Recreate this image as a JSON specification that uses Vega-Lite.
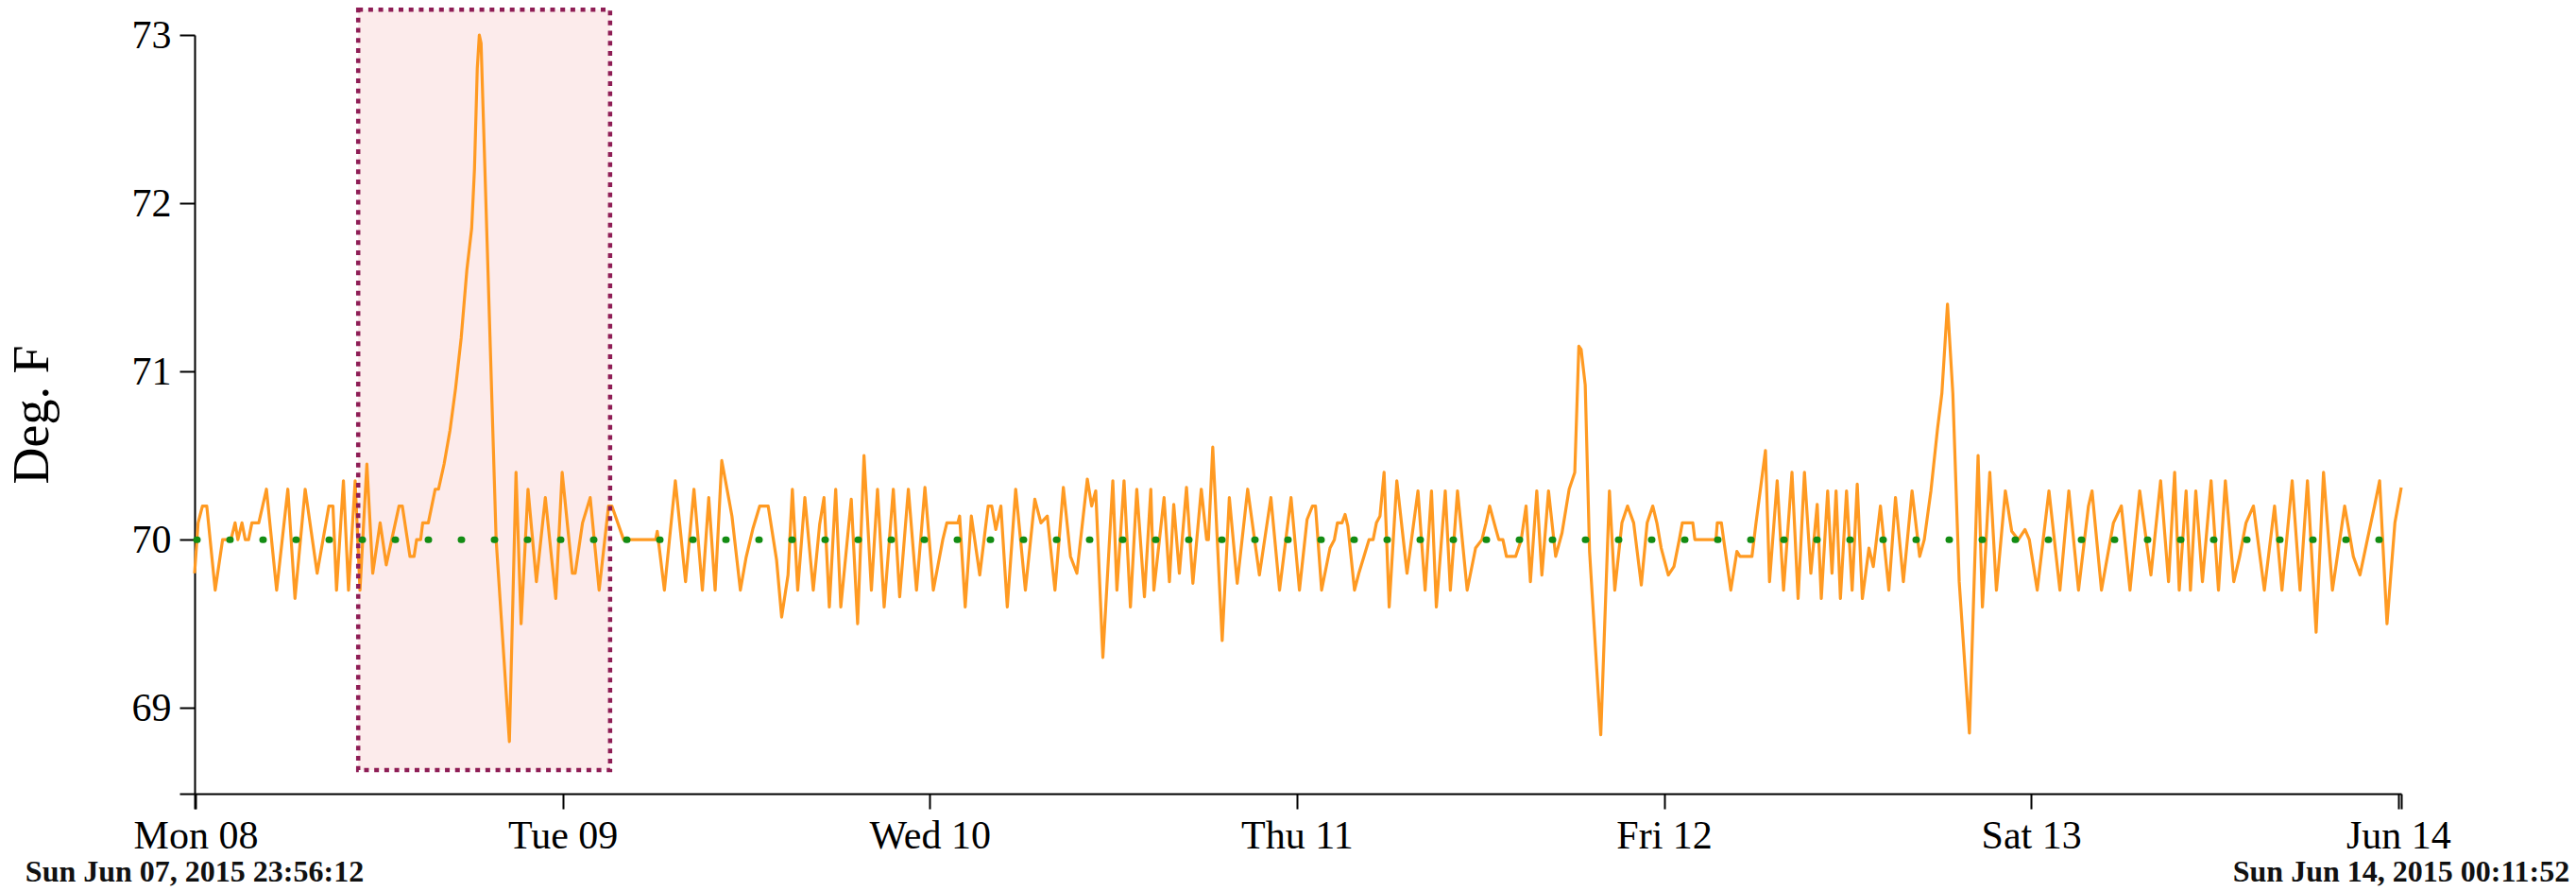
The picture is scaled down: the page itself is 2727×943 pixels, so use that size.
{
  "$schema": "https://vega.github.io/schema/vega-lite/v6.json",
  "width": 2336,
  "height": 803,
  "autosize": {"type": "none"},
  "padding": {"left": 206, "top": 37, "right": 185, "bottom": 103},
  "background": "#ffffff",
  "datasets": {
    "brush": [
      {"from": "2015-06-08T10:38", "to": "2015-06-09T03:06", "lo": 68.63, "hi": 73.15}
    ],
    "span": [
      {"t": "2015-06-07T23:56:12"},
      {"t": "2015-06-14T00:11:52"}
    ],
    "readings": [
      {"t": "2015-06-07T23:56:12", "temp": 69.8},
      {"t": "2015-06-08T00:10", "temp": 70.1},
      {"t": "2015-06-08T00:27", "temp": 70.2},
      {"t": "2015-06-08T00:44", "temp": 70.2},
      {"t": "2015-06-08T01:17", "temp": 69.7},
      {"t": "2015-06-08T01:46", "temp": 70.0},
      {"t": "2015-06-08T02:19", "temp": 70.0},
      {"t": "2015-06-08T02:35", "temp": 70.1},
      {"t": "2015-06-08T02:46", "temp": 70.0},
      {"t": "2015-06-08T03:02", "temp": 70.1},
      {"t": "2015-06-08T03:15", "temp": 70.0},
      {"t": "2015-06-08T03:28", "temp": 70.0},
      {"t": "2015-06-08T03:41", "temp": 70.1},
      {"t": "2015-06-08T04:08", "temp": 70.1},
      {"t": "2015-06-08T04:38", "temp": 70.3},
      {"t": "2015-06-08T05:18", "temp": 69.7},
      {"t": "2015-06-08T06:02", "temp": 70.3},
      {"t": "2015-06-08T06:30", "temp": 69.65},
      {"t": "2015-06-08T07:10", "temp": 70.3},
      {"t": "2015-06-08T07:57", "temp": 69.8},
      {"t": "2015-06-08T08:43", "temp": 70.2},
      {"t": "2015-06-08T08:59", "temp": 70.2},
      {"t": "2015-06-08T09:13", "temp": 69.7},
      {"t": "2015-06-08T09:40", "temp": 70.35},
      {"t": "2015-06-08T10:00", "temp": 69.7},
      {"t": "2015-06-08T10:26", "temp": 70.35},
      {"t": "2015-06-08T10:45", "temp": 69.7},
      {"t": "2015-06-08T11:12", "temp": 70.45},
      {"t": "2015-06-08T11:35", "temp": 69.8},
      {"t": "2015-06-08T12:04", "temp": 70.1},
      {"t": "2015-06-08T12:28", "temp": 69.85},
      {"t": "2015-06-08T13:18", "temp": 70.2},
      {"t": "2015-06-08T13:31", "temp": 70.2},
      {"t": "2015-06-08T14:01", "temp": 69.9},
      {"t": "2015-06-08T14:17", "temp": 69.9},
      {"t": "2015-06-08T14:27", "temp": 70.0},
      {"t": "2015-06-08T14:43", "temp": 70.0},
      {"t": "2015-06-08T14:51", "temp": 70.1},
      {"t": "2015-06-08T15:13", "temp": 70.1},
      {"t": "2015-06-08T15:40", "temp": 70.3},
      {"t": "2015-06-08T15:53", "temp": 70.3},
      {"t": "2015-06-08T16:15", "temp": 70.45},
      {"t": "2015-06-08T16:38", "temp": 70.65},
      {"t": "2015-06-08T17:00", "temp": 70.9},
      {"t": "2015-06-08T17:22", "temp": 71.2},
      {"t": "2015-06-08T17:44", "temp": 71.6},
      {"t": "2015-06-08T18:03", "temp": 71.85},
      {"t": "2015-06-08T18:14", "temp": 72.2},
      {"t": "2015-06-08T18:25", "temp": 72.8},
      {"t": "2015-06-08T18:33", "temp": 73.0},
      {"t": "2015-06-08T18:40", "temp": 72.95},
      {"t": "2015-06-08T19:39", "temp": 70.0},
      {"t": "2015-06-08T20:31", "temp": 68.8},
      {"t": "2015-06-08T20:57", "temp": 70.4},
      {"t": "2015-06-08T21:17", "temp": 69.5},
      {"t": "2015-06-08T21:44", "temp": 70.3},
      {"t": "2015-06-08T22:17", "temp": 69.75},
      {"t": "2015-06-08T22:52", "temp": 70.25},
      {"t": "2015-06-08T23:33", "temp": 69.65},
      {"t": "2015-06-08T23:58", "temp": 70.4},
      {"t": "2015-06-09T00:38", "temp": 69.8},
      {"t": "2015-06-09T00:49", "temp": 69.8},
      {"t": "2015-06-09T01:18", "temp": 70.1},
      {"t": "2015-06-09T01:48", "temp": 70.25},
      {"t": "2015-06-09T02:23", "temp": 69.7},
      {"t": "2015-06-09T03:00", "temp": 70.2},
      {"t": "2015-06-09T03:13", "temp": 70.2},
      {"t": "2015-06-09T03:59", "temp": 70.0},
      {"t": "2015-06-09T06:05", "temp": 70.0},
      {"t": "2015-06-09T06:11", "temp": 70.05},
      {"t": "2015-06-09T06:39", "temp": 69.7},
      {"t": "2015-06-09T07:22", "temp": 70.35},
      {"t": "2015-06-09T08:02", "temp": 69.75},
      {"t": "2015-06-09T08:35", "temp": 70.3},
      {"t": "2015-06-09T09:08", "temp": 69.7},
      {"t": "2015-06-09T09:33", "temp": 70.25},
      {"t": "2015-06-09T09:58", "temp": 69.7},
      {"t": "2015-06-09T10:24", "temp": 70.47},
      {"t": "2015-06-09T10:52", "temp": 70.24},
      {"t": "2015-06-09T11:04", "temp": 70.14},
      {"t": "2015-06-09T11:37", "temp": 69.7},
      {"t": "2015-06-09T11:59", "temp": 69.89},
      {"t": "2015-06-09T12:27", "temp": 70.07},
      {"t": "2015-06-09T12:53", "temp": 70.2},
      {"t": "2015-06-09T13:26", "temp": 70.2},
      {"t": "2015-06-09T13:59", "temp": 69.88},
      {"t": "2015-06-09T14:19", "temp": 69.54},
      {"t": "2015-06-09T14:44", "temp": 69.79},
      {"t": "2015-06-09T15:01", "temp": 70.3},
      {"t": "2015-06-09T15:22", "temp": 69.7},
      {"t": "2015-06-09T15:50", "temp": 70.25},
      {"t": "2015-06-09T16:23", "temp": 69.7},
      {"t": "2015-06-09T16:48", "temp": 70.09},
      {"t": "2015-06-09T17:05", "temp": 70.25},
      {"t": "2015-06-09T17:26", "temp": 69.6},
      {"t": "2015-06-09T17:51", "temp": 70.3},
      {"t": "2015-06-09T18:11", "temp": 69.6},
      {"t": "2015-06-09T18:52", "temp": 70.24},
      {"t": "2015-06-09T19:17", "temp": 69.5},
      {"t": "2015-06-09T19:42", "temp": 70.5},
      {"t": "2015-06-09T20:11", "temp": 69.7},
      {"t": "2015-06-09T20:35", "temp": 70.3},
      {"t": "2015-06-09T21:01", "temp": 69.6},
      {"t": "2015-06-09T21:37", "temp": 70.3},
      {"t": "2015-06-09T22:02", "temp": 69.66},
      {"t": "2015-06-09T22:36", "temp": 70.3},
      {"t": "2015-06-09T23:08", "temp": 69.7},
      {"t": "2015-06-09T23:41", "temp": 70.31},
      {"t": "2015-06-10T00:14", "temp": 69.7},
      {"t": "2015-06-10T00:51", "temp": 70.0},
      {"t": "2015-06-10T01:07", "temp": 70.1},
      {"t": "2015-06-10T01:50", "temp": 70.1},
      {"t": "2015-06-10T01:57", "temp": 70.14},
      {"t": "2015-06-10T02:19", "temp": 69.6},
      {"t": "2015-06-10T02:43", "temp": 70.14},
      {"t": "2015-06-10T03:16", "temp": 69.79},
      {"t": "2015-06-10T03:49", "temp": 70.2},
      {"t": "2015-06-10T04:03", "temp": 70.2},
      {"t": "2015-06-10T04:19", "temp": 70.06},
      {"t": "2015-06-10T04:39", "temp": 70.2},
      {"t": "2015-06-10T05:04", "temp": 69.6},
      {"t": "2015-06-10T05:37", "temp": 70.3},
      {"t": "2015-06-10T06:15", "temp": 69.7},
      {"t": "2015-06-10T06:52", "temp": 70.24},
      {"t": "2015-06-10T07:16", "temp": 70.1},
      {"t": "2015-06-10T07:41", "temp": 70.14},
      {"t": "2015-06-10T08:11", "temp": 69.7},
      {"t": "2015-06-10T08:44", "temp": 70.31},
      {"t": "2015-06-10T09:12", "temp": 69.9},
      {"t": "2015-06-10T09:37", "temp": 69.8},
      {"t": "2015-06-10T10:18", "temp": 70.36},
      {"t": "2015-06-10T10:35", "temp": 70.2},
      {"t": "2015-06-10T10:51", "temp": 70.29},
      {"t": "2015-06-10T11:19", "temp": 69.3},
      {"t": "2015-06-10T11:58", "temp": 70.35},
      {"t": "2015-06-10T12:14", "temp": 69.7},
      {"t": "2015-06-10T12:42", "temp": 70.35},
      {"t": "2015-06-10T13:07", "temp": 69.6},
      {"t": "2015-06-10T13:32", "temp": 70.3},
      {"t": "2015-06-10T14:02", "temp": 69.66},
      {"t": "2015-06-10T14:27", "temp": 70.3},
      {"t": "2015-06-10T14:39", "temp": 69.7},
      {"t": "2015-06-10T15:19", "temp": 70.25},
      {"t": "2015-06-10T15:40", "temp": 69.75},
      {"t": "2015-06-10T15:57", "temp": 70.21},
      {"t": "2015-06-10T16:19", "temp": 69.8},
      {"t": "2015-06-10T16:47", "temp": 70.31},
      {"t": "2015-06-10T17:12", "temp": 69.74},
      {"t": "2015-06-10T17:45", "temp": 70.3},
      {"t": "2015-06-10T18:06", "temp": 70.0},
      {"t": "2015-06-10T18:13", "temp": 70.0},
      {"t": "2015-06-10T18:30", "temp": 70.55},
      {"t": "2015-06-10T19:07", "temp": 69.4},
      {"t": "2015-06-10T19:35", "temp": 70.25},
      {"t": "2015-06-10T20:06", "temp": 69.74},
      {"t": "2015-06-10T20:47", "temp": 70.3},
      {"t": "2015-06-10T21:33", "temp": 69.79},
      {"t": "2015-06-10T22:18", "temp": 70.25},
      {"t": "2015-06-10T22:52", "temp": 69.7},
      {"t": "2015-06-10T23:37", "temp": 70.25},
      {"t": "2015-06-11T00:10", "temp": 69.7},
      {"t": "2015-06-11T00:40", "temp": 70.12},
      {"t": "2015-06-11T01:01", "temp": 70.2},
      {"t": "2015-06-11T01:13", "temp": 70.2},
      {"t": "2015-06-11T01:37", "temp": 69.7},
      {"t": "2015-06-11T02:10", "temp": 69.95},
      {"t": "2015-06-11T02:27", "temp": 70.0},
      {"t": "2015-06-11T02:39", "temp": 70.1},
      {"t": "2015-06-11T02:57", "temp": 70.1},
      {"t": "2015-06-11T03:09", "temp": 70.15},
      {"t": "2015-06-11T03:20", "temp": 70.08},
      {"t": "2015-06-11T03:46", "temp": 69.7},
      {"t": "2015-06-11T04:03", "temp": 69.8},
      {"t": "2015-06-11T04:23", "temp": 69.9},
      {"t": "2015-06-11T04:43", "temp": 70.0},
      {"t": "2015-06-11T04:59", "temp": 70.0},
      {"t": "2015-06-11T05:12", "temp": 70.1},
      {"t": "2015-06-11T05:26", "temp": 70.14},
      {"t": "2015-06-11T05:42", "temp": 70.4},
      {"t": "2015-06-11T06:02", "temp": 69.6},
      {"t": "2015-06-11T06:32", "temp": 70.35},
      {"t": "2015-06-11T07:12", "temp": 69.8},
      {"t": "2015-06-11T07:55", "temp": 70.29},
      {"t": "2015-06-11T08:23", "temp": 69.7},
      {"t": "2015-06-11T08:48", "temp": 70.29},
      {"t": "2015-06-11T09:07", "temp": 69.6},
      {"t": "2015-06-11T09:42", "temp": 70.29},
      {"t": "2015-06-11T10:02", "temp": 69.7},
      {"t": "2015-06-11T10:30", "temp": 70.29},
      {"t": "2015-06-11T11:08", "temp": 69.7},
      {"t": "2015-06-11T11:41", "temp": 69.95},
      {"t": "2015-06-11T12:06", "temp": 70.0},
      {"t": "2015-06-11T12:22", "temp": 70.1},
      {"t": "2015-06-11T12:36", "temp": 70.2},
      {"t": "2015-06-11T12:52", "temp": 70.11},
      {"t": "2015-06-11T12:59", "temp": 70.07},
      {"t": "2015-06-11T13:12", "temp": 70.0},
      {"t": "2015-06-11T13:28", "temp": 70.0},
      {"t": "2015-06-11T13:42", "temp": 69.9},
      {"t": "2015-06-11T14:18", "temp": 69.9},
      {"t": "2015-06-11T14:40", "temp": 70.0},
      {"t": "2015-06-11T14:59", "temp": 70.2},
      {"t": "2015-06-11T15:16", "temp": 69.75},
      {"t": "2015-06-11T15:41", "temp": 70.29},
      {"t": "2015-06-11T16:01", "temp": 69.79},
      {"t": "2015-06-11T16:27", "temp": 70.29},
      {"t": "2015-06-11T16:55", "temp": 69.9},
      {"t": "2015-06-11T17:20", "temp": 70.04},
      {"t": "2015-06-11T17:48", "temp": 70.3},
      {"t": "2015-06-11T18:10", "temp": 70.4},
      {"t": "2015-06-11T18:26", "temp": 71.15},
      {"t": "2015-06-11T18:35", "temp": 71.13},
      {"t": "2015-06-11T18:51", "temp": 70.92},
      {"t": "2015-06-11T19:08", "temp": 69.93},
      {"t": "2015-06-11T19:52", "temp": 68.84},
      {"t": "2015-06-11T20:26", "temp": 70.29},
      {"t": "2015-06-11T20:47", "temp": 69.7},
      {"t": "2015-06-11T21:15", "temp": 70.1},
      {"t": "2015-06-11T21:37", "temp": 70.2},
      {"t": "2015-06-11T22:01", "temp": 70.1},
      {"t": "2015-06-11T22:31", "temp": 69.73},
      {"t": "2015-06-11T22:54", "temp": 70.1},
      {"t": "2015-06-11T23:16", "temp": 70.2},
      {"t": "2015-06-11T23:32", "temp": 70.1},
      {"t": "2015-06-11T23:49", "temp": 69.95},
      {"t": "2015-06-12T00:17", "temp": 69.79},
      {"t": "2015-06-12T00:39", "temp": 69.84},
      {"t": "2015-06-12T01:00", "temp": 70.0},
      {"t": "2015-06-12T01:12", "temp": 70.1},
      {"t": "2015-06-12T01:53", "temp": 70.1},
      {"t": "2015-06-12T02:01", "temp": 70.0},
      {"t": "2015-06-12T03:24", "temp": 70.0},
      {"t": "2015-06-12T03:29", "temp": 70.1},
      {"t": "2015-06-12T03:45", "temp": 70.1},
      {"t": "2015-06-12T03:54", "temp": 70.0},
      {"t": "2015-06-12T04:22", "temp": 69.7},
      {"t": "2015-06-12T04:46", "temp": 69.93},
      {"t": "2015-06-12T04:58", "temp": 69.9},
      {"t": "2015-06-12T05:45", "temp": 69.9},
      {"t": "2015-06-12T06:01", "temp": 70.1},
      {"t": "2015-06-12T06:38", "temp": 70.53},
      {"t": "2015-06-12T06:54", "temp": 69.75},
      {"t": "2015-06-12T07:24", "temp": 70.35},
      {"t": "2015-06-12T07:49", "temp": 69.7},
      {"t": "2015-06-12T08:22", "temp": 70.4},
      {"t": "2015-06-12T08:46", "temp": 69.65},
      {"t": "2015-06-12T09:11", "temp": 70.4},
      {"t": "2015-06-12T09:36", "temp": 69.8},
      {"t": "2015-06-12T10:01", "temp": 70.21},
      {"t": "2015-06-12T10:17", "temp": 69.65},
      {"t": "2015-06-12T10:42", "temp": 70.29},
      {"t": "2015-06-12T10:59", "temp": 69.8},
      {"t": "2015-06-12T11:15", "temp": 70.29},
      {"t": "2015-06-12T11:32", "temp": 69.65},
      {"t": "2015-06-12T11:56", "temp": 70.29},
      {"t": "2015-06-12T12:18", "temp": 69.7},
      {"t": "2015-06-12T12:38", "temp": 70.33},
      {"t": "2015-06-12T12:58", "temp": 69.65},
      {"t": "2015-06-12T13:24", "temp": 69.95},
      {"t": "2015-06-12T13:41", "temp": 69.84},
      {"t": "2015-06-12T14:09", "temp": 70.2},
      {"t": "2015-06-12T14:42", "temp": 69.7},
      {"t": "2015-06-12T15:08", "temp": 70.25},
      {"t": "2015-06-12T15:39", "temp": 69.75},
      {"t": "2015-06-12T16:13", "temp": 70.29},
      {"t": "2015-06-12T16:43", "temp": 69.9},
      {"t": "2015-06-12T17:01", "temp": 70.0},
      {"t": "2015-06-12T17:27", "temp": 70.29},
      {"t": "2015-06-12T17:53", "temp": 70.66},
      {"t": "2015-06-12T18:10", "temp": 70.87},
      {"t": "2015-06-12T18:32", "temp": 71.4},
      {"t": "2015-06-12T18:53", "temp": 70.87},
      {"t": "2015-06-12T19:18", "temp": 69.75},
      {"t": "2015-06-12T19:58", "temp": 68.85},
      {"t": "2015-06-12T20:32", "temp": 70.5},
      {"t": "2015-06-12T20:49", "temp": 69.6},
      {"t": "2015-06-12T21:18", "temp": 70.4},
      {"t": "2015-06-12T21:44", "temp": 69.7},
      {"t": "2015-06-12T22:19", "temp": 70.29},
      {"t": "2015-06-12T22:44", "temp": 70.05},
      {"t": "2015-06-12T23:10", "temp": 70.0},
      {"t": "2015-06-12T23:36", "temp": 70.06},
      {"t": "2015-06-12T23:53", "temp": 70.0},
      {"t": "2015-06-13T00:24", "temp": 69.7},
      {"t": "2015-06-13T01:10", "temp": 70.29},
      {"t": "2015-06-13T01:53", "temp": 69.7},
      {"t": "2015-06-13T02:28", "temp": 70.29},
      {"t": "2015-06-13T03:06", "temp": 69.7},
      {"t": "2015-06-13T03:45", "temp": 70.2},
      {"t": "2015-06-13T03:59", "temp": 70.29},
      {"t": "2015-06-13T04:36", "temp": 69.7},
      {"t": "2015-06-13T05:23", "temp": 70.1},
      {"t": "2015-06-13T05:54", "temp": 70.2},
      {"t": "2015-06-13T06:28", "temp": 69.7},
      {"t": "2015-06-13T07:06", "temp": 70.29},
      {"t": "2015-06-13T07:50", "temp": 69.79},
      {"t": "2015-06-13T08:28", "temp": 70.35},
      {"t": "2015-06-13T08:59", "temp": 69.75},
      {"t": "2015-06-13T09:23", "temp": 70.4},
      {"t": "2015-06-13T09:41", "temp": 69.7},
      {"t": "2015-06-13T10:08", "temp": 70.29},
      {"t": "2015-06-13T10:25", "temp": 69.7},
      {"t": "2015-06-13T10:46", "temp": 70.29},
      {"t": "2015-06-13T11:12", "temp": 69.75},
      {"t": "2015-06-13T11:46", "temp": 70.35},
      {"t": "2015-06-13T12:15", "temp": 69.7},
      {"t": "2015-06-13T12:42", "temp": 70.35},
      {"t": "2015-06-13T13:15", "temp": 69.75},
      {"t": "2015-06-13T13:38", "temp": 69.9},
      {"t": "2015-06-13T14:03", "temp": 70.1},
      {"t": "2015-06-13T14:32", "temp": 70.2},
      {"t": "2015-06-13T15:15", "temp": 69.7},
      {"t": "2015-06-13T15:55", "temp": 70.2},
      {"t": "2015-06-13T16:24", "temp": 69.7},
      {"t": "2015-06-13T17:04", "temp": 70.35},
      {"t": "2015-06-13T17:35", "temp": 69.7},
      {"t": "2015-06-13T18:04", "temp": 70.35},
      {"t": "2015-06-13T18:38", "temp": 69.45},
      {"t": "2015-06-13T19:07", "temp": 70.4},
      {"t": "2015-06-13T19:42", "temp": 69.7},
      {"t": "2015-06-13T20:30", "temp": 70.2},
      {"t": "2015-06-13T21:04", "temp": 69.9},
      {"t": "2015-06-13T21:30", "temp": 69.79},
      {"t": "2015-06-13T21:59", "temp": 70.0},
      {"t": "2015-06-13T22:27", "temp": 70.2},
      {"t": "2015-06-13T22:47", "temp": 70.35},
      {"t": "2015-06-13T23:16", "temp": 69.5},
      {"t": "2015-06-13T23:47", "temp": 70.1},
      {"t": "2015-06-14T00:11:52", "temp": 70.31}
    ]
  },
  "config": {
    "view": {"stroke": null},
    "axis": {
      "grid": false,
      "domainColor": "#000000",
      "domainWidth": 2,
      "tickColor": "#000000",
      "tickWidth": 2,
      "tickSize": 16,
      "labelColor": "#000000",
      "labelFont": "Liberation Serif",
      "labelFontSize": 42,
      "labelFlush": false,
      "labelOverlap": false,
      "titleFont": "Liberation Serif",
      "titleFontSize": 54,
      "titleFontWeight": "normal",
      "titleColor": "#000000"
    }
  },
  "layer": [
    {
      "data": {"name": "brush"},
      "mark": {"type": "rect", "fill": "#fcebeb", "stroke": null},
      "encoding": {
        "x": {"field": "from", "type": "temporal"},
        "x2": {"field": "to"},
        "y": {"field": "lo", "type": "quantitative"},
        "y2": {"field": "hi"}
      }
    },
    {
      "data": {"name": "readings"},
      "mark": {"type": "line", "color": "#ff9a22", "strokeWidth": 3.2, "strokeJoin": "round"},
      "encoding": {
        "x": {
          "field": "t",
          "type": "temporal",
          "title": null,
          "scale": {
            "domain": [
              {"year": 2015, "month": "June", "date": 7, "hours": 23, "minutes": 56, "seconds": 12},
              {"year": 2015, "month": "June", "date": 14, "hours": 0, "minutes": 11, "seconds": 52}
            ],
            "nice": false
          },
          "axis": {
            "values": [
              {"year": 2015, "month": "June", "date": 7, "hours": 23, "minutes": 56, "seconds": 12},
              {"year": 2015, "month": "June", "date": 8},
              {"year": 2015, "month": "June", "date": 9},
              {"year": 2015, "month": "June", "date": 10},
              {"year": 2015, "month": "June", "date": 11},
              {"year": 2015, "month": "June", "date": 12},
              {"year": 2015, "month": "June", "date": 13},
              {"year": 2015, "month": "June", "date": 14},
              {"year": 2015, "month": "June", "date": 14, "hours": 0, "minutes": 11, "seconds": 52}
            ],
            "labelPadding": 8,
            "labelExpr": "minutes(datum.value) != 0 ? '' : (day(datum.value) == 0 ? timeFormat(datum.value, '%b %d') : timeFormat(datum.value, '%a %d'))"
          }
        },
        "y": {
          "field": "temp",
          "type": "quantitative",
          "title": "Deg. F",
          "scale": {"domain": [68.49, 73], "nice": false, "zero": false},
          "axis": {
            "values": [68.49, 69, 70, 71, 72, 73],
            "labelPadding": 9,
            "titlePadding": 78,
            "labelExpr": "datum.value < 68.9 ? '' : format(datum.value, 'd')"
          }
        }
      }
    },
    {
      "data": {"values": [{}]},
      "mark": {
        "type": "rule",
        "color": "#138c13",
        "strokeWidth": 7,
        "strokeCap": "round",
        "strokeDash": [1, 34],
        "strokeDashOffset": 12
      },
      "encoding": {"y": {"datum": 70, "type": "quantitative"}}
    },
    {
      "data": {"name": "brush"},
      "mark": {
        "type": "rect",
        "fill": null,
        "fillOpacity": 0,
        "stroke": "#8e1d55",
        "strokeWidth": 4.5,
        "strokeDash": [5, 5.7]
      },
      "encoding": {
        "x": {"field": "from", "type": "temporal"},
        "x2": {"field": "to"},
        "y": {"field": "lo", "type": "quantitative"},
        "y2": {"field": "hi"}
      }
    },
    {
      "data": {"name": "span"},
      "mark": {
        "type": "text",
        "font": "Liberation Serif",
        "fontSize": 32,
        "fontWeight": "bold",
        "color": "#111111",
        "align": "center",
        "baseline": "alphabetic",
        "dy": 93
      },
      "encoding": {
        "x": {"field": "t", "type": "temporal"},
        "y": {"datum": 68.49, "type": "quantitative"},
        "text": {"field": "t", "type": "temporal", "format": "%a %b %d, %Y %H:%M:%S"}
      }
    }
  ]
}
